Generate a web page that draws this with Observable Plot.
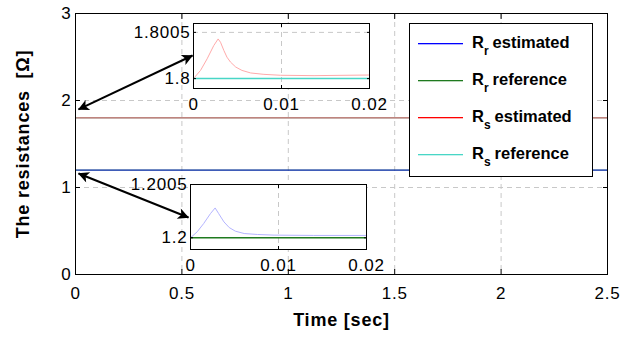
<!DOCTYPE html>
<html><head><meta charset="utf-8">
<script src="https://cdn.jsdelivr.net/npm/d3@7"></script>
<script src="https://cdn.jsdelivr.net/npm/@observablehq/plot@0.6"></script>
<style>
body{margin:0;background:#fff;}
#wrap{position:relative;width:640px;height:339px;overflow:hidden;}
#wrap > *{position:absolute;}
</style></head><body><div id="wrap"></div>
<script>
// ---------- data ----------
const xTicks = [0, 0.5, 1, 1.5, 2, 2.5];
const yTicks = [0, 1, 2, 3];
const insetXTicks = [0, 0.01, 0.02];
const rsInsetTicks = [1.8, 1.8005];
const rrInsetTicks = [1.2, 1.2005];

const tRs = [0, 0.0008, 0.00155, 0.0023, 0.0028, 0.00307, 0.00345, 0.0038, 0.0042, 0.0048, 0.0055, 0.0065, 0.008, 0.0099, 0.0137, 0.02, 2.5];
const rsEstimated = [1.8, 1.800089, 1.800214, 1.800357, 1.800429, 1.800393, 1.800304, 1.800232, 1.800179, 1.800125, 1.800089, 1.800061, 1.800046, 1.800036, 1.800032, 1.800039, 1.800039];
const tRr = [0, 0.00076, 0.0015, 0.00227, 0.0028, 0.0032, 0.0038, 0.0044, 0.0051, 0.0061, 0.0076, 0.0095, 0.014, 0.02, 2.5];
const rrEstimated = [1.2, 1.200056, 1.200134, 1.200227, 1.20028, 1.200227, 1.200149, 1.200096, 1.200062, 1.20004, 1.200031, 1.200025, 1.200022, 1.200022, 1.200022];
const tRef = [0, 2.5];
const rsReference = [1.8, 1.8];
const rrReference = [1.2, 1.2];

// annotation arrows (data units of the main axes)
const arrowX1 = [0.014, 0.014];
const arrowY1 = [1.897, 1.161];
const arrowX2 = [0.55, 0.531];
const arrowY2 = [2.517, 0.655];

const legendSub = ["r", "r", "s", "s"];
const legendText = ["estimated", "reference", "estimated", "reference"];
const legendColors = ["#0000ff", "#1f7a1f", "#ff0000", "#48d6c6"];

const BLUE = "#0000ff", GREEN = "#1f7a1f", RED = "#ff0000", CYAN = "#48d6c6";
const FONT = '"Liberation Sans", Arial, Helvetica, sans-serif';
const fmt = d => String(d);

const wrap = document.getElementById("wrap");
const baseStyle = {fontFamily: FONT, fontSize: "17px", color: "#000", background: "transparent", overflow: "visible", letterSpacing: "0.8px"};
const grid = {stroke: "#c8c8c8", strokeOpacity: 1, strokeDasharray: "5,4"};

// ---------- main plot ----------
const main = Plot.plot({
  width: 640, height: 339,
  marginLeft: 75, marginRight: 33, marginTop: 13, marginBottom: 65,
  style: baseStyle,
  x: {domain: [0, 2.5]},
  y: {domain: [0, 3]},
  marks: [
    Plot.gridX(xTicks, grid),
    Plot.gridY(yTicks, grid),
    Plot.line(rsReference, {x: tRef, y: rsReference, stroke: CYAN, strokeWidth: 1}),
    Plot.line(rrReference, {x: tRef, y: rrReference, stroke: GREEN, strokeWidth: 1}),
    Plot.line(rsEstimated, {x: tRs, y: rsEstimated, stroke: RED, strokeWidth: 1, strokeOpacity: 0.7}),
    Plot.line(rrEstimated, {x: tRr, y: rrEstimated, stroke: BLUE, strokeWidth: 1, strokeOpacity: 0.8}),
    Plot.axisX(xTicks, {anchor: "bottom", tickSize: -5, tickPadding: 17, tickFormat: fmt, label: null, fontSize: 17}),
    Plot.axisX(xTicks, {anchor: "top", tickSize: -5, tickFormat: () => "", label: null}),
    Plot.axisY(yTicks, {anchor: "left", tickSize: -5, tickPadding: 9, tickFormat: fmt, label: null, fontSize: 17}),
    Plot.axisY(yTicks, {anchor: "right", tickSize: -5, tickFormat: () => "", label: null}),
    Plot.frame({stroke: "#000"}),
    Plot.text(["Time [sec]"], {frameAnchor: "bottom", dy: 51, fontWeight: "bold", fontSize: 18}),
    Plot.text(["The resistances \u00a0[Ω]"], {frameAnchor: "left", textAnchor: "middle", dx: -52, rotate: -90, fontWeight: "bold", fontSize: 18}),
    Plot.link(arrowX1, {x1: arrowX1, y1: arrowY1, x2: arrowX2, y2: arrowY2, stroke: "#000", strokeWidth: 2})
  ]
});
main.style.left = "0px"; main.style.top = "0px";
wrap.appendChild(main);

// filled arrowheads on both ends of the link
{
  const svg = d3.select(main);
  const defs = svg.append("defs");
  defs.append("marker")
    .attr("id", "ahead").attr("viewBox", "0 0 10 10")
    .attr("refX", 9.5).attr("refY", 5)
    .attr("markerUnits", "userSpaceOnUse")
    .attr("markerWidth", 15).attr("markerHeight", 11)
    .attr("orient", "auto-start-reverse")
    .append("path").attr("d", "M0,0 L10,5 L0,10 L2.5,5 Z").attr("fill", "#000");
  svg.selectAll('g[aria-label="link"] path')
    .attr("marker-start", "url(#ahead)")
    .attr("marker-end", "url(#ahead)");
}

// ---------- insets ----------
function inset({left, top, domainY, ticksY, est, tEst, ref, estColor, refColor}) {
  const mL = 62, mR = 14, mT = 6, mB = 28, w = 176, h = 65;
  const p = Plot.plot({
    width: w + mL + mR, height: h + mT + mB,
    marginLeft: mL, marginRight: mR, marginTop: mT, marginBottom: mB,
    style: baseStyle,
    x: {domain: [0, 0.02]},
    y: {domain: domainY},
    marks: [
      Plot.frame({fill: "#fff", stroke: null}),
      Plot.gridX([0.01], grid),
      Plot.gridY([ticksY[1]], grid),
      Plot.line(est, {x: tEst, y: est, stroke: estColor, strokeWidth: 1, clip: true}),
      Plot.line(ref, {x: tRef, y: ref, stroke: refColor, strokeWidth: 1.5, clip: true}),
      Plot.axisX(insetXTicks, {anchor: "bottom", tickSize: -3, tickPadding: 12, tickFormat: fmt, label: null, fontSize: 17}),
      Plot.axisX(insetXTicks, {anchor: "top", tickSize: -3, tickFormat: () => "", label: null}),
      Plot.axisY(ticksY, {anchor: "left", tickSize: -3, tickPadding: 6, tickFormat: fmt, label: null, fontSize: 17}),
      Plot.axisY(ticksY, {anchor: "right", tickSize: -3, tickFormat: () => "", label: null}),
      Plot.frame({stroke: "#000"})
    ]
  });
  p.style.left = (left - mL) + "px";
  p.style.top = (top - mT) + "px";
  wrap.appendChild(p);
}
inset({left: 193, top: 23, domainY: [1.799893, 1.800596], ticksY: rsInsetTicks,
       est: rsEstimated, tEst: tRs, ref: rsReference, estColor: "#ffaaaa", refColor: CYAN});
inset({left: 190, top: 184, domainY: [1.19989, 1.2005], ticksY: rrInsetTicks,
       est: rrEstimated, tEst: tRr, ref: rrReference, estColor: "#b4b4ff", refColor: GREEN});

// ---------- legend ----------
{
  const lg = d3.select(wrap).append("svg")
    .attr("width", 184).attr("height", 154)
    .style("left", "409px").style("top", "23px")
    .style("font-family", FONT);
  lg.append("rect").attr("x", 0.5).attr("y", 0.5).attr("width", 183).attr("height", 153)
    .attr("fill", "#fff").attr("stroke", "#000");
  const rows = [20, 57, 94, 131];
  legendText.forEach((t, i) => {
    lg.append("rect").attr("x", 9).attr("width", 45).attr("y", rows[i]).attr("height", 1.3)
      .attr("fill", legendColors[i]);
    const tx = lg.append("text").attr("x", 63).attr("y", rows[i] + 5)
      .attr("font-size", 16.5).attr("font-weight", "bold").attr("fill", "#000");
    tx.append("tspan").text("R");
    tx.append("tspan").attr("dy", 7).attr("font-size", 12).text(legendSub[i]);
    tx.append("tspan").attr("dy", -7).attr("dx", 4).text(t);
  });
}
</script>
</body></html>
